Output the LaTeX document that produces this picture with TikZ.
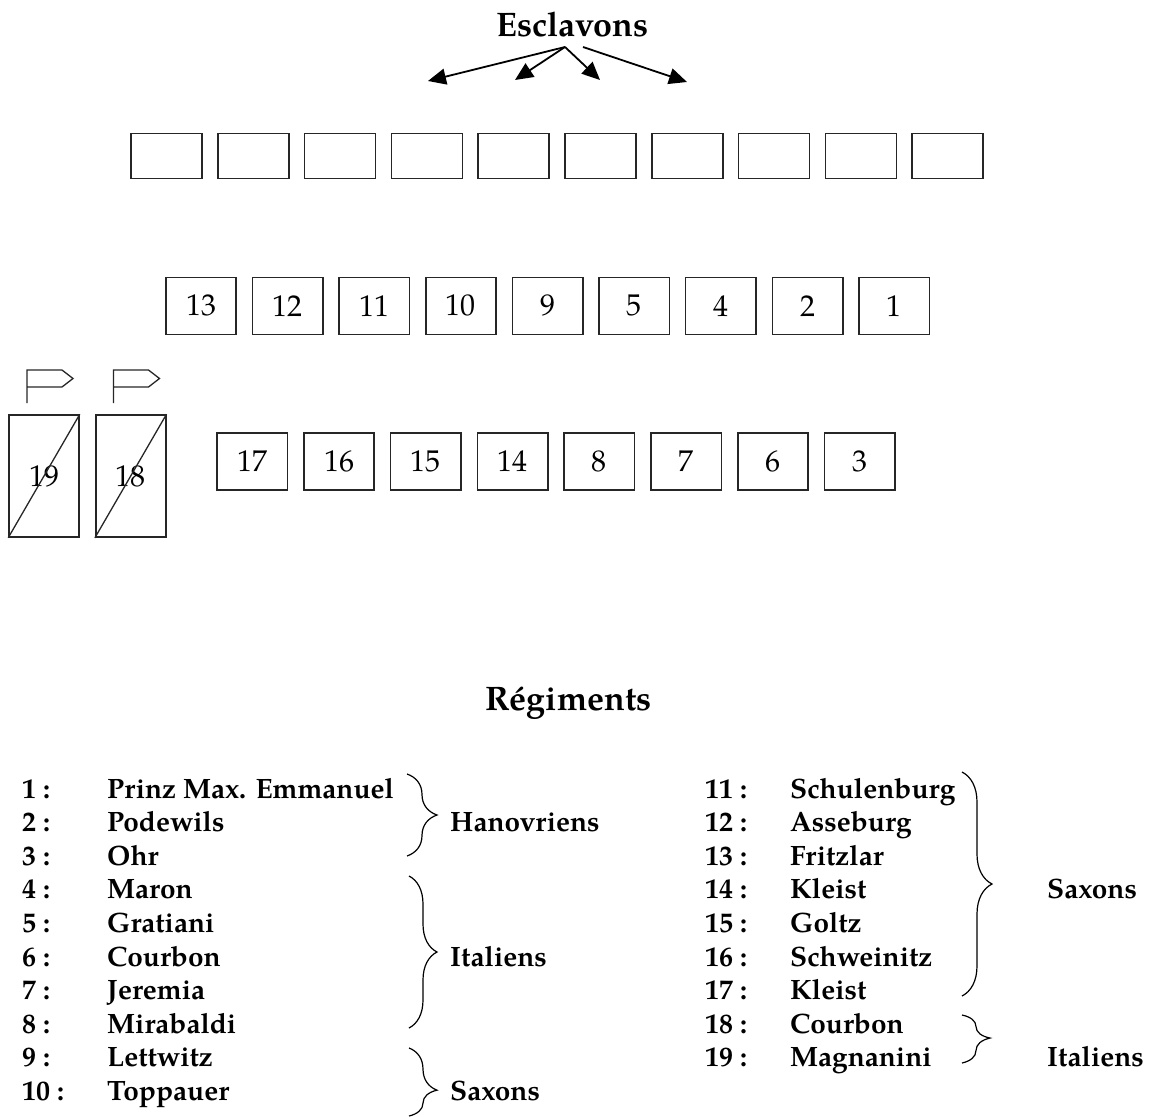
\documentclass[tikz,border=0pt]{standalone}
\usepackage{fontspec}
\setmainfont{TeX Gyre Pagella}
\usetikzlibrary{arrows.meta,decorations.pathreplacing}
\begin{document}
\begin{tikzpicture}[x=1pt,y=-1pt,
  ln/.style={draw=black!85,line width=1.6pt},
  slot/.style={ln,minimum width=71pt,minimum height=45pt,inner sep=0pt},
  unit/.style={ln,minimum width=70.5pt,minimum height=57pt,inner sep=0pt,font=\fontsize{30}{32}\selectfont},
  tall/.style={ln,minimum width=70pt,minimum height=122pt,inner sep=0pt,font=\fontsize{30}{32}\selectfont},
  head/.style={font=\fontsize{34}{40}\selectfont\bfseries,anchor=base,inner sep=0pt},
  lnum/.style={anchor=base west,font=\fontsize{28}{30}\selectfont\bfseries,inner sep=0pt},
  arr/.style={line width=1.8pt,-{Triangle[length=18pt,width=16pt]}},
  flagline/.style={line width=1.3pt,black!85,line join=miter},
  brc/.style={line width=1.2pt,decorate,decoration={brace,amplitude=#1}}
]
\useasboundingbox (0,0) rectangle (1152,1117);
\clip (0,0) rectangle (1152,1117);

% heading and arrows
\node[head] (esc) at (572.5,36) {Esclavons};
\coordinate (o1) at (565,47);
\coordinate (o2) at (583,47);
\coordinate (t1) at (428,81);
\coordinate (t2) at (515,80);
\coordinate (t3) at (600,80);
\coordinate (t4) at (687,82);
\draw[arr] (o1) -- (t1);
\draw[arr] (o1) -- (t2);
\draw[arr] (o1) -- (t3);
\draw[arr] (o2) -- (t4);

% top row of empty boxes
\foreach \i in {0,...,9} {
  \node[slot] (s\i) at ({166.5+86.8*\i},156) {};
}

% middle row
\foreach \lab [count=\i from 0] in {13,12,11,10,9,5,4,2,1} {
  \node[unit] (m\lab) at ({201+86.65*\i},305.8) {\lab};
}

% bottom row
\foreach \lab [count=\i from 0] in {17,16,15,14,8,7,6,3} {
  \node[unit] (b\lab) at ({252.2+86.8*\i},461.4) {\lab};
}

% crossed tall boxes with flags
\node[tall] (b19) at (44,476) {19};
\node[tall] (b18) at (130.7,476) {18};
\draw[flagline] (b19.south west) -- (b19.north east);
\draw[flagline] (b18.south west) -- (b18.north east);
\draw[flagline] (27,403) -- (27,370) -- (62,370) -- (73,378.5) -- (62,387) -- (27,387);
\draw[flagline] (113.5,403) -- (113.5,370) -- (148.5,370) -- (159.5,378.5) -- (148.5,387) -- (113.5,387);

% legend title
\node[head] (reg) at (568.5,710) {Régiments};

% left column
\foreach \n/\name [count=\i from 0] in {1/Prinz Max. Emmanuel,2/Podewils,3/Ohr,4/Maron,5/Gratiani,6/Courbon,7/Jeremia,8/Mirabaldi,9/Lettwitz,10/Toppauer} {
  \node[lnum] (n\n) at (22,{798+33.6*\i}) {\n~:};
  \node[lnum] (r\n) at (107,{798+33.6*\i}) {\name};
}
% right column
\foreach \n/\name [count=\i from 0] in {11/Schulenburg,12/Asseburg,13/Fritzlar,14/Kleist,15/Goltz,16/Schweinitz,17/Kleist,18/Courbon,19/Magnanini} {
  \node[lnum] (n\n) at (705,{798+33.6*\i}) {\n~:};
  \node[lnum] (r\n) at (790,{798+33.6*\i}) {\name};
}

% braces
\draw[brc=30pt] (407,774) -- (407,856);
\draw[brc=28pt] (409,876) -- (409,1028);
\draw[brc=28pt,decoration={aspect=0.62}] (409,1048) -- (409,1116);
\draw[brc=30pt] (962,772) -- (962,996);
\draw[brc=28pt,decoration={aspect=0.48}] (962,1015) -- (962,1063);

% group labels
\node[lnum] (g1) at (450,831.6) {Hanovriens};
\node[lnum] (g2) at (450,966) {Italiens};
\node[lnum] (g3) at (450,1100.4) {Saxons};
\node[lnum] (g4) at (1047,898.8) {Saxons};
\node[lnum] (g5) at (1047,1066.8) {Italiens};
\end{tikzpicture}
\end{document}
